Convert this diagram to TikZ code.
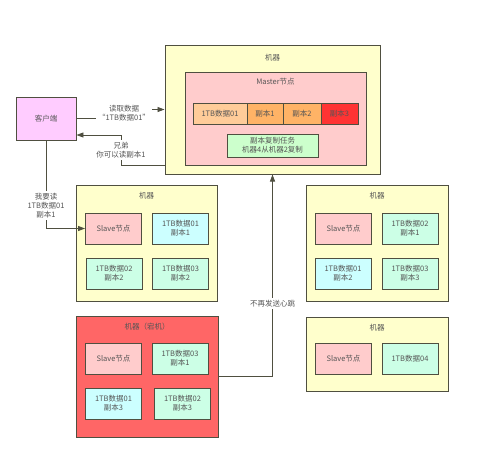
\documentclass[tikz,border=0pt]{standalone}
\usepackage{fontspec}
\setmainfont{Noto Sans CJK SC}
\usepackage{xcolor}
\usetikzlibrary{arrows.meta,positioning,calc}
\definecolor{edge}{HTML}{4F4F40}
\definecolor{txt}{HTML}{555555}
\definecolor{machfill}{HTML}{FFFFCC}
\definecolor{mastfill}{HTML}{FFCCCC}
\definecolor{cellA}{HTML}{FFCC99}
\definecolor{cellB}{HTML}{FFB366}
\definecolor{cellC}{HTML}{FF3333}
\definecolor{taskfill}{HTML}{CCFFCC}
\definecolor{clientfill}{HTML}{FFCCFF}
\definecolor{slavefill}{HTML}{FFCCCC}
\definecolor{cyanfill}{HTML}{CCFFFF}
\definecolor{greenfill}{HTML}{CCFFE6}
\definecolor{crashfill}{HTML}{FF6666}
\tikzset{
  blk/.style={draw=edge, line width=0.9pt, align=center, text=txt, font=\fontsize{7.5}{9}\selectfont, inner sep=1pt},
  mach/.style={blk, fill=machfill, line width=1pt},
  ttl/.style={text=txt, font=\fontsize{7.5}{9}\selectfont, inner sep=0pt},
  box/.style={blk, minimum width=56pt, minimum height=31pt},
  slave/.style={box, fill=slavefill},
  cyan/.style={box, fill=cyanfill},
  grn/.style={box, fill=greenfill},
  cell/.style={blk, minimum height=21pt, outer sep=0pt},
  lbl/.style={fill=white, align=center, text=txt, font=\fontsize{7.5}{9}\selectfont, inner sep=2pt},
  arr/.style={-{Triangle[length=7pt,width=5pt]}, draw=edge, line width=0.9pt},
}
\begin{document}
\begin{tikzpicture}[x=1pt, y=-1pt]
\useasboundingbox[fill=white] (0,0) rectangle (500,469);
% master machine
\node[mach, minimum width=215pt, minimum height=129pt] (mm) at (272.5,109.5) {};
\node[ttl] (mmt) at (272.5,58) {机器};
\node[blk, fill=mastfill, minimum width=181pt, minimum height=93pt] (mn) at (275.5,118.5) {};
\node[ttl] (mnt) at (275.5,82) {Master节点};
\node[cell, fill=cellA, minimum width=54pt] (c1) at (220,113.5) {1TB数据01};
\node[cell, fill=cellB, minimum width=36pt, right=0pt of c1] (c2) {副本1};
\node[cell, fill=cellB, minimum width=38pt, right=0pt of c2] (c3) {副本2};
\node[cell, fill=cellC, minimum width=37pt, right=0pt of c3] (c4) {副本3};
\node[blk, fill=taskfill, minimum width=91pt, minimum height=23pt] (task) at (272.5,145.5) {副本复制任务\\机器4从机器2复制};
% client
\node[blk, fill=clientfill, minimum width=60pt, minimum height=43pt] (client) at (46,118.5) {客户端};
% machine 1
\node[mach, minimum width=141pt, minimum height=116pt] (m1) at (146.5,243) {};
\node[ttl] (m1t) at (146.5,196) {机器};
\node[slave] (s1) at (113.5,228.5) {Slave节点};
\node[cyan] (d11) at (180.5,228.5) {1TB数据01\\副本1};
\node[grn] (d12) at (114,273.5) {1TB数据02\\副本2};
\node[grn] (d13) at (180.5,273.5) {1TB数据03\\副本2};
% machine 2
\node[mach, minimum width=142pt, minimum height=116pt] (m2) at (377,243) {};
\node[ttl] (m2t) at (377,196) {机器};
\node[slave] (s2) at (343.5,228.5) {Slave节点};
\node[grn] (d21) at (410,228.5) {1TB数据02\\副本1};
\node[cyan] (d22) at (343,273.5) {1TB数据01\\副本2};
\node[grn] (d23) at (410,273.5) {1TB数据03\\副本3};
% machine 3 (down)
\node[mach, fill=crashfill, minimum width=142pt, minimum height=121pt] (m3) at (147,376.5) {};
\node[ttl] (m3t) at (147,327) {机器（宕机）};
\node[slave] (s3) at (113.5,358.5) {Slave节点};
\node[grn] (d31) at (180,358.5) {1TB数据03\\副本1};
\node[cyan] (d32) at (113.5,403.5) {1TB数据01\\副本3};
\node[grn] (d33) at (182.5,403.5) {1TB数据02\\副本3};
% machine 4
\node[mach, minimum width=142pt, minimum height=74pt] (m4) at (377,354) {};
\node[ttl] (m4t) at (377,328) {机器};
\node[slave] (s4) at (343.5,358.5) {Slave节点};
\node[grn] (d41) at (410,358.5) {1TB数据04};
% connectors
\node[lbl] (rd) at (124,113) {读取数据\\“1TB数据01”};
\draw[draw=edge, line width=0.9pt] (client.east) -- (client.east -| rd.west);
\draw[arr] (rd.east |- mm.west) -- (mm.west);
\coordinate (k1) at (121,165);
\coordinate (k2) at (121,135);
\draw[arr] (k1 -| mm.west) -- (k1) -- node[lbl]{兄弟\\你可以读副本1} (k2) -- (k2 -| client.east);
\draw[arr] (client.south) |- node[lbl, pos=0.37]{我要读\\1TB数据01\\副本1} (s1.west);
\draw[arr] (m3.east) -| node[lbl, pos=0.68]{不再发送心跳} (mm.south);
\end{tikzpicture}
\end{document}
